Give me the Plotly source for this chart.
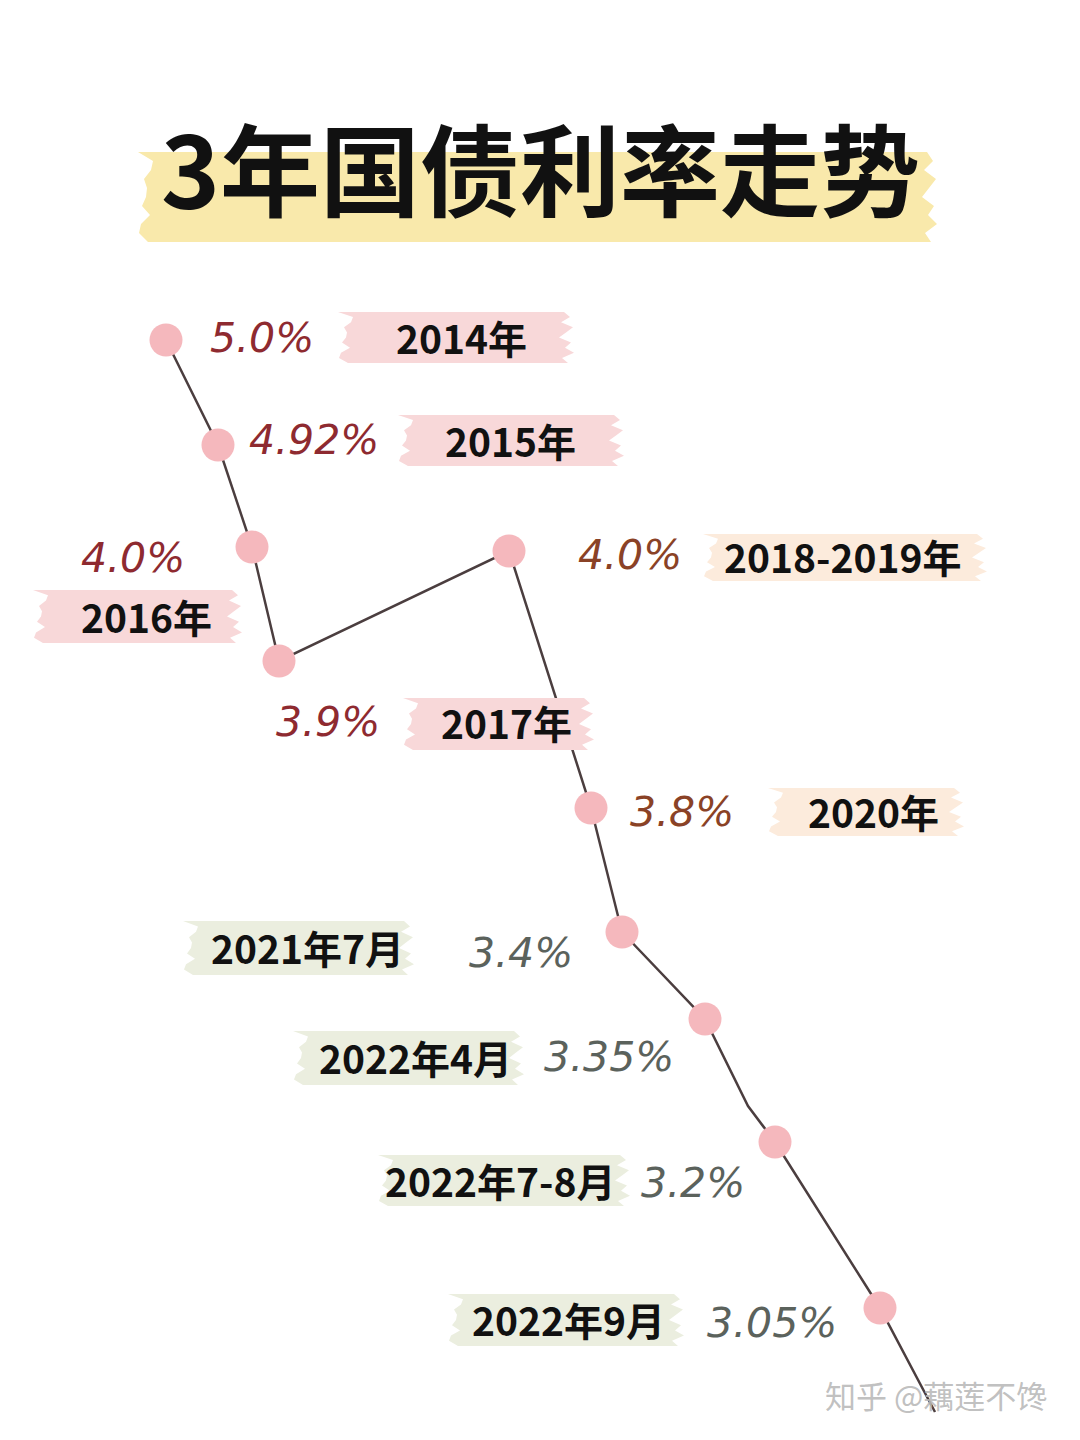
import plotly.graph_objects as go

# ---- data ----
title = "3年国债利率走势"
periods = ["2014年", "2015年", "2016年", "2017年", "2018-2019年", "2020年",
           "2021年7月", "2022年4月", "2022年7-8月", "2022年9月"]
rates = [5.0, 4.92, 4.0, 3.9, 4.0, 3.8, 3.4, 3.35, 3.2, 3.05]
rate_labels = [f"{r}%" for r in ["5.0", "4.92", "4.0", "3.9", "4.0", "3.8", "3.4", "3.35", "3.2", "3.05"]]
watermark = "知乎 @藕莲不馋"

# ---- layout (display positions on a 1080x1440 canvas) ----
node_x = [166, 218, 252, 279, 509, 591, 622, 705, 775, 880]
node_y = [340, 445, 547, 661, 551, 808, 932, 1019, 1142, 1308]
tail = (935, 1412)
bend = (748, 1106)

rate_pos = [(262, 338), (314, 440), (133, 558), (328, 722), (630, 555),
            (682, 812), (521, 953), (609, 1057), (693, 1183), (772, 1323)]
label_pos = [(461, 337), (510, 440), (146, 616), (506, 722), (843, 556),
             (873, 811), (307, 947), (415, 1057), (500, 1180), (568, 1319)]
hl_box = [(340, 572, 312, 363), (400, 622, 415, 466), (35, 240, 590, 643),
          (405, 592, 698, 750), (705, 985, 534, 581), (770, 962, 788, 836),
          (185, 412, 921, 975), (295, 522, 1031, 1085), (380, 628, 1155, 1206),
          (450, 682, 1294, 1346)]
groups = ["a", "a", "a", "a", "b", "b", "c", "c", "c", "c"]
hl_color = {"a": "#f8d8d9", "b": "#fcebdc", "c": "#ebeedf"}
rate_color = {"a": "#8e2a30", "b": "#8a4226", "c": "#5b625c"}

jag = [0, 6, -3, 9, 2, -5, 7, 1, 10, -2, 4]

OFF = 8  # page body margin compensation


def brush(x0, x1, y0, y1):
    n = len(jag)
    h = (y1 - y0) / (n - 1)
    pts = []
    for i in range(n):
        pts.append((x1 - 8 + jag[i], y0 + i * h))
    for i in range(n):
        pts.append((x0 + 8 - jag[(i * 3) % n], y1 - i * h))
    d = "M " + " L ".join(f"{px:.1f},{py:.1f}" for px, py in pts) + " Z"
    return d


fig = go.Figure()

shapes = []
shapes.append(dict(type="path", path=brush(140, 935, 152, 242), xref="x", yref="y",
                   fillcolor="#f9e9ab", line=dict(width=0), layer="below"))
for (x0, x1, y0, y1), g in zip(hl_box, groups):
    shapes.append(dict(type="path", path=brush(x0, x1, y0, y1), xref="x", yref="y",
                       fillcolor=hl_color[g], line=dict(width=0), layer="above"))

lx = node_x[:8] + [bend[0]] + node_x[8:] + [tail[0]]
ly = node_y[:8] + [bend[1]] + node_y[8:] + [tail[1]]
fig.add_trace(go.Scatter(x=lx, y=ly, mode="lines",
                         line=dict(color="#4b3e3f", width=2.5), hoverinfo="skip"))
fig.add_trace(go.Scatter(x=node_x, y=node_y, mode="markers",
                         marker=dict(size=33, color="#f5b8bd", line=dict(width=0)),
                         customdata=rates, text=periods,
                         hovertemplate="%{text}: %{customdata}%<extra></extra>"))

ann = []
ann.append(dict(x=540, y=165, text=f"<b>{title}</b>", showarrow=False, xref="x", yref="y",
                font=dict(family="Noto Sans CJK SC", size=100, color="#111111")))
for (px, py), t, g in zip(rate_pos, rate_labels, groups):
    ann.append(dict(x=px, y=py, text=t, showarrow=False, xref="x", yref="y",
                    font=dict(family="DejaVu Sans", size=41, color=rate_color[g], style="italic")))
for (px, py), t in zip(label_pos, periods):
    ann.append(dict(x=px, y=py, text=f"<b>{t}</b>", showarrow=False, xref="x", yref="y",
                    font=dict(family="Noto Sans CJK SC", size=39, color="#111111")))
ann.append(dict(x=936, y=1394, text=watermark, showarrow=False, xref="x", yref="y",
                font=dict(family="Noto Sans CJK SC", size=31, color="rgba(185,185,185,0.9)")))

fig.update_layout(
    width=1080 - OFF * 2, height=1440 - OFF * 2,
    margin=dict(l=0, r=0, t=0, b=0),
    paper_bgcolor="#ffffff", plot_bgcolor="#ffffff",
    showlegend=False,
    shapes=shapes, annotations=ann,
    xaxis=dict(range=[OFF, 1080 - OFF], visible=False, fixedrange=True),
    yaxis=dict(range=[1440 - OFF, OFF], visible=False, fixedrange=True),
)

fig.write_html("out.html", config={"displayModeBar": False})
